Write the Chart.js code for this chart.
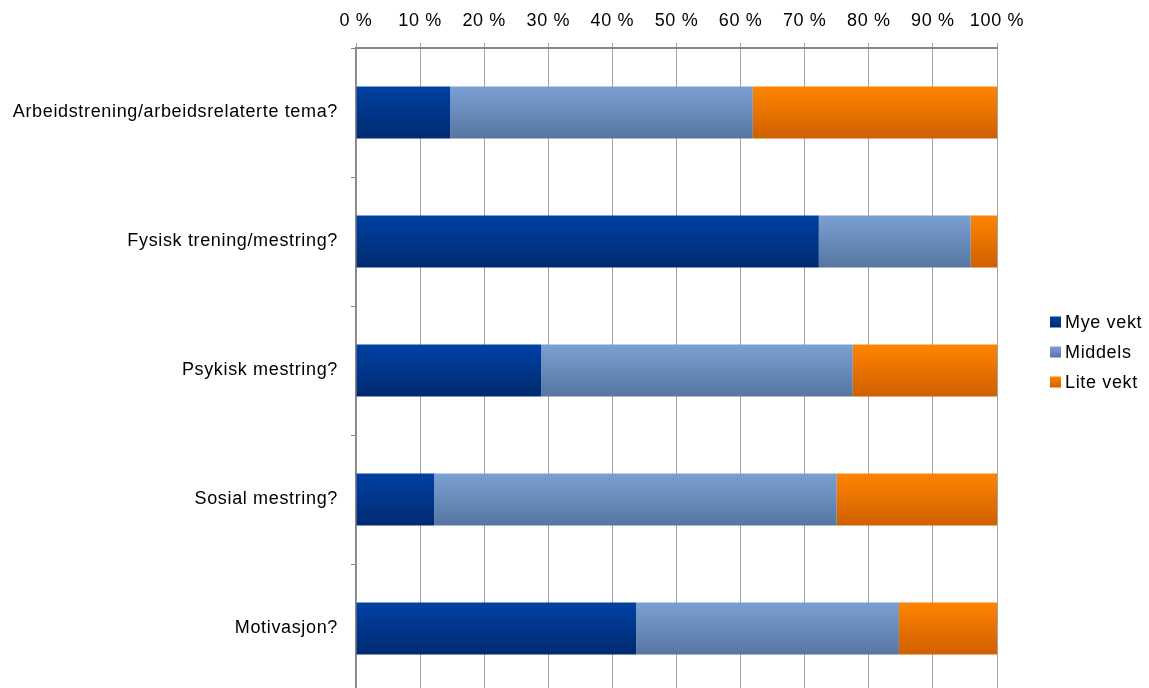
<!DOCTYPE html>
<html>
<head>
<meta charset="utf-8">
<script src="https://cdn.jsdelivr.net/npm/chart.js@4/dist/chart.umd.min.js"></script>
<style>
  html, body { margin: 0; padding: 0; background: #fff; overflow: hidden; }
  #wrap { width: 1149px; height: 700px; }
</style>
</head>
<body>
<div id="wrap"><canvas id="myChart" width="1149" height="700"></canvas></div>
<script>
const categories = [
  "Arbeidstrening/arbeidsrelaterte tema?",
  "Fysisk trening/mestring?",
  "Psykisk mestring?",
  "Sosial mestring?",
  "Motivasjon?"
];
const myeVekt = [14.7, 72.2, 28.9, 12.2, 43.7];
const middels = [47.2, 23.7, 48.6, 62.8, 41.0];
const liteVekt = [38.1, 4.1, 22.5, 25.0, 15.3];
const tickValues = [0, 10, 20, 30, 40, 50, 60, 70, 80, 90, 100];

const FONT = "'Liberation Sans', Arial, sans-serif";
const BAR_PCT = 0.403;

// [top, bottom] colours of each series' gradient
const seriesColors = [
  ["#0041a3", "#002a70"],
  ["#7aa0d3", "#5676a0"],
  ["#ff8400", "#cf6000"]
];

// vertical gradient across each bar, lighter at the top
function barGradient(colors) {
  return (context) => {
    const chart = context.chart;
    if (context.dataIndex === undefined || !chart.chartArea || !chart.scales.y) return colors[0];
    const yScale = chart.scales.y;
    const y = yScale.getPixelForValue(context.dataIndex);
    const half = yScale.height / categories.length * BAR_PCT / 2;
    const g = chart.ctx.createLinearGradient(0, y - half, 0, y + half);
    g.addColorStop(0, colors[0]);
    g.addColorStop(1, colors[1]);
    return g;
  };
}

// Excel-like text spacing for every label
const textSpacing = {
  id: "textSpacing",
  beforeDraw(chart) {
    chart.ctx.letterSpacing = "0.65px";
  }
};

// legend on the right, small gradient squares
const sideLegend = {
  id: "sideLegend",
  afterDraw(chart) {
    const ctx = chart.ctx;
    ctx.save();
    ctx.letterSpacing = "0.65px";
    ctx.font = "18px " + FONT;
    ctx.textBaseline = "middle";
    ctx.textAlign = "left";
    chart.data.datasets.forEach((ds, i) => {
      const cy = 322 + i * 30;
      const g = ctx.createLinearGradient(0, cy - 5.5, 0, cy + 5.5);
      g.addColorStop(0, seriesColors[i][0]);
      g.addColorStop(1, seriesColors[i][1]);
      ctx.fillStyle = g;
      ctx.fillRect(1050, cy - 5.5, 11, 11);
      ctx.fillStyle = "#000";
      ctx.fillText(ds.label, 1065, cy + 1);
    });
    ctx.restore();
  }
};

const config = {
  type: "bar",
  data: {
    labels: categories,
    datasets: [
      { label: "Mye vekt", data: myeVekt, backgroundColor: barGradient(seriesColors[0]) },
      { label: "Middels", data: middels, backgroundColor: barGradient(seriesColors[1]) },
      { label: "Lite vekt", data: liteVekt, backgroundColor: barGradient(seriesColors[2]) }
    ]
  },
  options: {
    indexAxis: "y",
    responsive: false,
    animation: false,
    layout: { padding: { left: 0, right: 152, top: 0, bottom: 7 } },
    datasets: {
      bar: { categoryPercentage: 1, barPercentage: BAR_PCT, borderWidth: 0 }
    },
    scales: {
      x: {
        position: "top",
        stacked: true,
        min: 0,
        max: 100,
        afterBuildTicks: (scale) => { scale.ticks = tickValues.map(v => ({ value: v })); },
        afterFit: (scale) => {
          scale.height = 48;
          scale.paddingLeft = 0;
          scale.paddingRight = 0;
        },
        ticks: {
          color: "#000",
          padding: 11,
          font: { family: FONT, size: 18 },
          callback: (v) => v + " %"
        },
        grid: { color: "#a3a3a3", lineWidth: 1, tickLength: 5 },
        border: { color: "#868686", width: 2 }
      },
      y: {
        stacked: true,
        afterFit: (scale) => {
          scale.width = 356;
          scale.paddingTop = 0;
          scale.paddingBottom = 0;
        },
        ticks: {
          color: "#000",
          padding: 13,
          font: { family: FONT, size: 18 }
        },
        grid: { drawOnChartArea: false, offset: true, color: "#868686", tickLength: 5, lineWidth: 1 },
        border: { color: "#868686", width: 1.5 }
      }
    },
    plugins: {
      legend: { display: false },
      tooltip: { enabled: false }
    }
  },
  plugins: [textSpacing, sideLegend]
};

const myChart = new Chart(document.getElementById("myChart"), config);
</script>
</body>
</html>
